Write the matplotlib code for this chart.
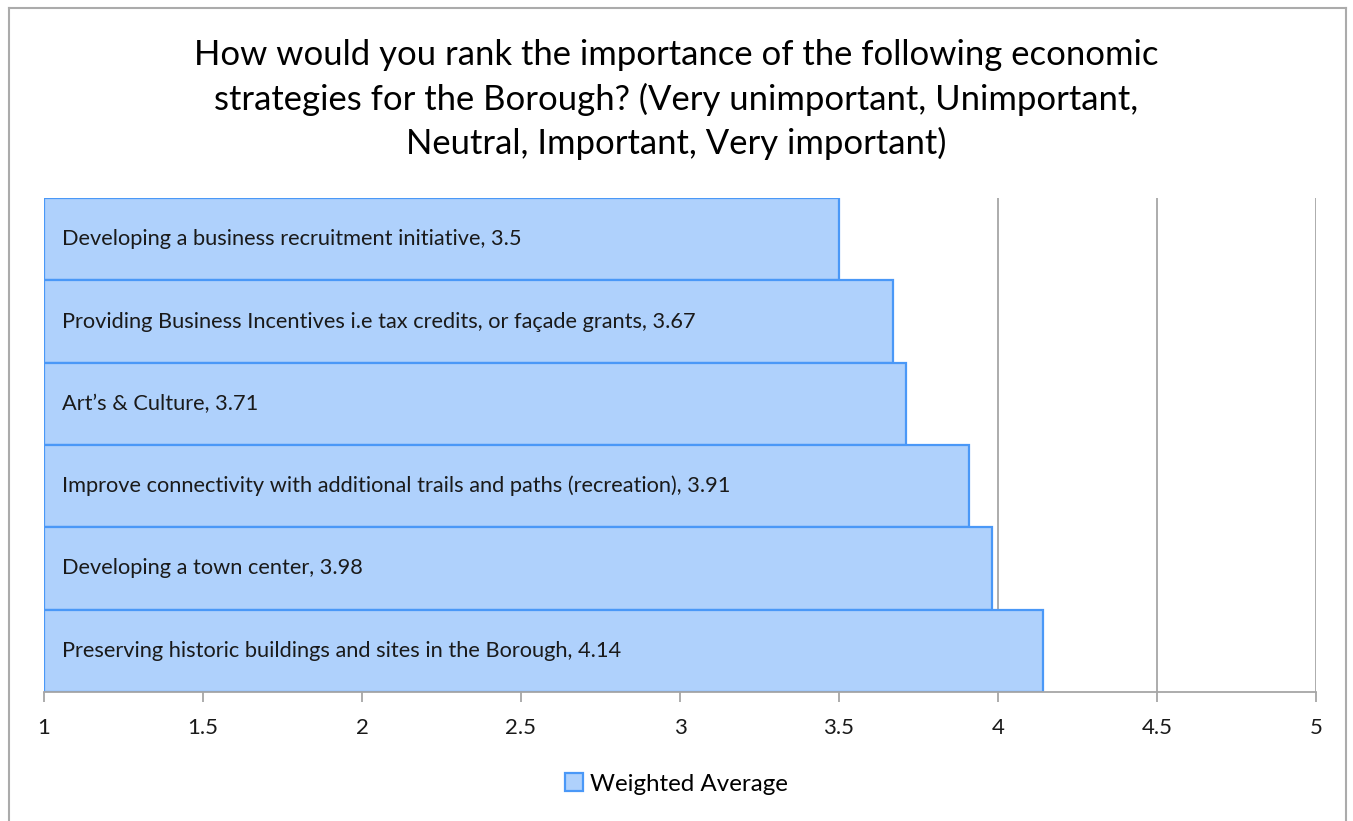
import matplotlib
matplotlib.use("Agg")
import matplotlib.pyplot as plt
from matplotlib.lines import Line2D
from matplotlib.patches import Patch

plt.rcParams['font.family'] = ['Lato', 'DejaVu Sans']

title = ("How would you rank the importance of the following economic\n"
         "strategies for the Borough? (Very unimportant, Unimportant,\n"
         "Neutral, Important, Very important)")
categories = [
    "Developing a business recruitment initiative",
    "Providing Business Incentives i.e tax credits, or façade grants",
    "Art\u2019s & Culture",
    "Improve connectivity with additional trails and paths (recreation)",
    "Developing a town center",
    "Preserving historic buildings and sites in the Borough",
]
values = [3.5, 3.67, 3.71, 3.91, 3.98, 4.14]
value_labels = ["3.5", "3.67", "3.71", "3.91", "3.98", "4.14"]
xticks = [1, 1.5, 2, 2.5, 3, 3.5, 4, 4.5, 5]
xtick_labels = ["1", "1.5", "2", "2.5", "3", "3.5", "4", "4.5", "5"]
series_name = "Weighted Average"

W, H = 1353, 821
fig = plt.figure(figsize=(W / 100, H / 100), dpi=100)
fig.patch.set_facecolor("white")

# outer chart frame (open at the bottom edge)
frame_color = "#ABABAB"
x0, x1, y0 = 8.5 / W, 1345.5 / W, 1 - 8.5 / H
fig.add_artist(Line2D([x0, x0], [-0.01, y0], transform=fig.transFigure, color=frame_color, lw=1.5))
fig.add_artist(Line2D([x0, x1], [y0, y0], transform=fig.transFigure, color=frame_color, lw=1.5))
fig.add_artist(Line2D([x1, x1], [-0.01, y0], transform=fig.transFigure, color=frame_color, lw=1.5))

left, right = 44 / W, 1316 / W
bottom, top = 1 - 692 / H, 1 - 198 / H
ax = fig.add_axes([left, bottom, right - left, top - bottom])

fill = "#AFD1FC"
edge = "#4A98F7"
ypos = list(range(len(categories)))
widths = [v - 1 for v in values]
ax.barh(ypos, widths, left=1, height=1.0, color=fill, edgecolor=edge, linewidth=1.6, zorder=2)

for y, cat, lab in zip(ypos, categories, value_labels):
    ax.annotate(f"{cat}, {lab}", xy=(1, y), xytext=(13, 0), textcoords="offset points",
                ha="left", va="center", fontsize=15.7, color="#1A1A1A", zorder=3)

ax.set_xlim(1, 5)
ax.set_ylim(len(categories) - 0.5, -0.5)
ax.set_xticks(xticks)
ax.set_xticklabels(xtick_labels, fontsize=16, color="#1A1A1A")
ax.set_yticks([])
ax.grid(axis="x", color="#A6A6A6", linewidth=1.3, zorder=0)
ax.set_axisbelow(True)
for s in ["top", "left", "right"]:
    ax.spines[s].set_visible(False)
ax.spines["bottom"].set_color("#A6A6A6")
ax.spines["bottom"].set_linewidth(1.3)
ax.tick_params(axis="x", length=7, width=1.3, color="#A6A6A6", pad=12)

fig.text(0.5, 1 - 99.5 / H, title, ha="center", va="center", fontsize=24.9,
         linespacing=1.43, color="#000000")

handle = Patch(facecolor=fill, edgecolor=edge, linewidth=1.6)
fig.legend([handle], [series_name], loc="center", bbox_to_anchor=(0.5, 1 - 784 / H),
           frameon=False, fontsize=17.4, handlelength=0.75, handleheight=0.75, handletextpad=0.3)

fig.savefig("out.png", dpi=100)
